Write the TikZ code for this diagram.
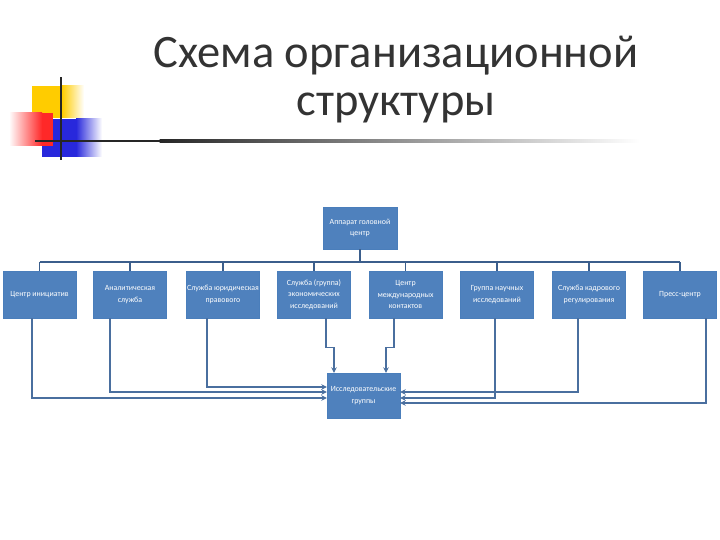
\documentclass[tikz,border=0pt]{standalone}
\usepackage{fontspec}
\setmainfont{Carlito}
\usetikzlibrary{arrows.meta}
\definecolor{boxfill}{HTML}{4F81BD}
\definecolor{boxedge}{HTML}{4A7EBB}
\definecolor{busc}{HTML}{3B5E8C}
\definecolor{connc}{HTML}{4A6F9F}
\definecolor{titlec}{HTML}{333333}
\tikzset{
  orgbox/.style={draw=boxedge, fill=boxfill, text=white, align=center,
    minimum width=73pt, minimum height=47pt, inner xsep=0pt, inner ysep=1pt,
    font=\fontsize{7.9}{11.3}\selectfont},
  busline/.style={draw=busc, line width=2.4pt},
  tickline/.style={draw=busc, line width=1.6pt},
  conn/.style={draw=connc, line width=1.3pt, -{Stealth[length=5.5pt,width=5.5pt]}},
}
\begin{document}
\begin{tikzpicture}[x=1pt,y=-1pt]
\useasboundingbox (0,0) rectangle (720,540);
% decoration
\fill[fill={rgb,255:red,255;green,204;blue,0}] (32,86) rectangle (62,118);
\shade[left color={rgb,255:red,255;green,204;blue,0}, right color=white] (62,86) rectangle (84,118);
\fill[fill={rgb,255:red,40;green,40;blue,220}] (42,119) rectangle (76,157);
\shade[left color={rgb,255:red,40;green,40;blue,220}, right color=white] (76,119) rectangle (102,157);
\shade[left color=white, right color={rgb,255:red,255;green,40;blue,40}] (9,113) rectangle (42,146);
\fill[fill={rgb,255:red,255;green,40;blue,40}] (41.5,113) rectangle (53,146);
\fill[black!85] (35,139.8) rectangle (160,142.2);
\shade[left color=black!85, right color=white] (159.5,139.8) rectangle (640,142.2);
\fill[black!85] (60,77) rectangle (62.3,160);
% title
\node[font=\fontsize{46.5}{48}\selectfont, text=titlec, anchor=base] (t1) at (396,68) {Схема организационной};
\node[font=\fontsize{46.5}{48}\selectfont, text=titlec, anchor=base] (t2) at (396,116) {структуры};
% boxes
\node[orgbox, minimum width=74pt, minimum height=42pt] (top) at (360,228) {Аппарат головной\\центр};
\node[orgbox] (b1) at (39.5,294.5) {Центр инициатив};
\node[orgbox] (b2) at (130,294.5) {Аналитическая\\служба};
\node[orgbox] (b3) at (223,294.5) {Служба юридическая\\правового};
\node[orgbox] (b4) at (314,294.5) {Служба (группа)\\экономических\\исследований};
\node[orgbox] (b5) at (405.5,294.5) {Центр\\международных\\контактов};
\node[orgbox] (b6) at (497,294.5) {Группа научных\\исследований};
\node[orgbox] (b7) at (589,294.5) {Служба кадрового\\регулирования};
\node[orgbox] (b8) at (680,294.5) {Пресс-центр};
\node[orgbox, minimum height=45pt] (ir) at (363.5,395.5) {Исследовательские\\группы};
% bus
\coordinate (busy) at (0,262);
\draw[busline] (b1.north |- busy) -- (b8.north |- busy);
\draw[tickline] (top.south) -- (top.south |- busy);
\foreach \b in {b1,b2,b3,b4,b5,b6,b7,b8}{
  \draw[tickline] (\b.north |- busy) -- (\b.north);
}
% connectors to research groups
\draw[conn] ([xshift=-7.5pt]b1.south) |- ([yshift=-2.5pt]ir.west);
\draw[conn] ([xshift=-20pt]b2.south) |- ([yshift=3.5pt]ir.west);
\draw[conn] ([xshift=-16pt]b3.south) |- ([yshift=8.5pt]ir.west);
\draw[conn] ([xshift=12pt]b4.south) -- ++(0,29) -| ([xshift=-29.5pt]ir.north);
\draw[conn] ([xshift=-11.5pt]b5.south) -- ++(0,29) -| ([xshift=22.5pt]ir.north);
\draw[conn] ([xshift=-2pt]b6.south) |- ([yshift=-2.5pt]ir.east);
\draw[conn] ([xshift=-11pt]b7.south) |- ([yshift=3.5pt]ir.east);
\draw[conn] ([xshift=26pt]b8.south) |- ([yshift=-7.5pt]ir.east);
\end{tikzpicture}
\end{document}
